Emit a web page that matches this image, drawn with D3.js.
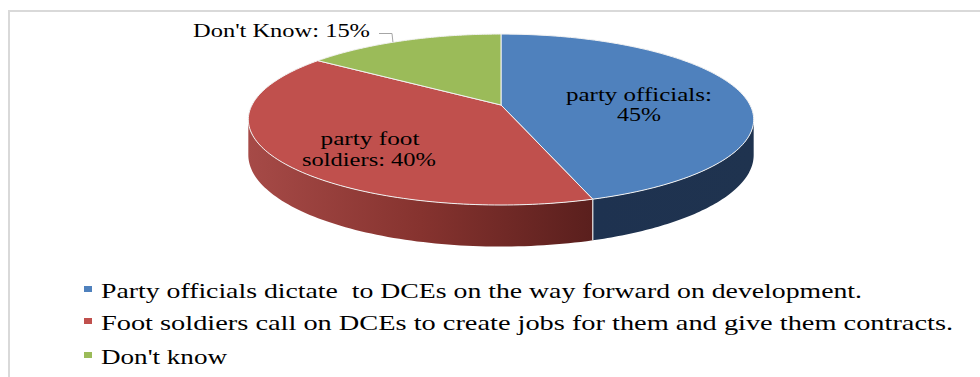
<!DOCTYPE html>
<html>
<head>
<meta charset="utf-8">
<script src="https://cdn.jsdelivr.net/npm/d3@7/dist/d3.min.js"></script>
<style>
  html, body { margin: 0; padding: 0; background: #ffffff; }
  svg text { font-family: "Liberation Serif", "Times New Roman", serif; fill: #000; white-space: pre; }
</style>
</head>
<body>
<svg id="chart" width="980" height="377"></svg>
<script>
// ---- data ----
const categories = ["party officials", "party foot soldiers", "Don't Know"];
const values = [45, 40, 15];
const legendLabels = [
  "Party officials dictate  to DCEs on the way forward on development.",
  "Foot soldiers call on DCEs to create jobs for them and give them contracts.",
  "Don't know"
];
const topColors = ["#4f81bd", "#c0504d", "#9bbb59"];

// ---- layout ----
const svg = d3.select("#chart");
const W = 980, H = 377;
const P = { cx: 501, cy: 105, A: 249, B: 83, p: 0.17, depth: 34.5 };

function proj(a, f, down) {
  const u = f * Math.sin(a), v = f * Math.cos(a);
  const w = 1 + P.p * v;
  return [P.cx + P.A * u / w, P.cy - P.B * v / w + (down ? P.depth / w : 0)];
}
function samples(a0, a1, n) {
  return d3.range(n + 1).map(i => a0 + (a1 - a0) * i / n);
}
const line = d3.line();

// border
svg.append("rect").attr("x", 0).attr("y", 0).attr("width", W).attr("height", H).attr("fill", "#fff");
svg.append("path").attr("d", `M9,${H} L9,11 L${W},11`).attr("fill", "none")
  .attr("stroke", "#d9d9d9").attr("stroke-width", 2);

const pie = d3.pie().sort(null).startAngle(0).endAngle(2 * Math.PI);
const arcs = pie(values);

// gradient for red side
const defs = svg.append("defs");
const g1 = defs.append("linearGradient").attr("id", "redSide").attr("x1", "0").attr("x2", "1").attr("y1", "0").attr("y2", "0");
g1.append("stop").attr("offset", "0").attr("stop-color", "#a64a47");
g1.append("stop").attr("offset", "0.5").attr("stop-color", "#86332f");
g1.append("stop").attr("offset", "1").attr("stop-color", "#5a1f1d");
const g0 = defs.append("linearGradient").attr("id", "blueSide").attr("x1", "0").attr("x2", "1").attr("y1", "0").attr("y2", "0");
g0.append("stop").attr("offset", "0").attr("stop-color", "#1e3250");
g0.append("stop").attr("offset", "1").attr("stop-color", "#1f334f");
const sideFill = ["url(#blueSide)", "url(#redSide)", "#5e7a2f"];

// side walls (front visible part)
const aMin = Math.acos(-P.p), aMax = 2 * Math.PI - Math.acos(-P.p);
arcs.forEach((d, i) => {
  const s = Math.max(d.startAngle, aMin), e = Math.min(d.endAngle, aMax);
  if (e <= s) return;
  const top = samples(s, e, 80).map(a => proj(a, 1, false));
  const bot = samples(e, s, 80).map(a => proj(a, 1, true));
  svg.append("path").attr("d", line(top.concat(bot)) + "Z")
    .attr("fill", sideFill[i]).attr("stroke", "none");
});
// side separator lines
arcs.forEach(d => {
  [d.startAngle].forEach(a => {
    if (a > aMin && a < aMax) {
      const t = proj(a, 1, false), b = proj(a, 1, true);
      svg.append("line").attr("x1", t[0]).attr("y1", t[1]).attr("x2", b[0]).attr("y2", b[1])
        .attr("stroke", "#e8e8e8").attr("stroke-width", 1.2);
    }
  });
});

// top faces
arcs.forEach((d, i) => {
  const pts = [[P.cx, P.cy]].concat(samples(d.startAngle, d.endAngle, 120).map(a => proj(a, 1, false)));
  svg.append("path").attr("d", line(pts) + "Z")
    .attr("fill", topColors[i]).attr("stroke", "#f2f2f2").attr("stroke-width", 1).attr("stroke-linejoin", "round");
});

// ---- data labels ----
function fitText(x, y, txt, len, size, anchor) {
  return svg.append("text").attr("x", x).attr("y", y).attr("text-anchor", anchor || "middle")
    .attr("font-size", size).attr("textLength", len).attr("lengthAdjust", "spacingAndGlyphs").text(txt);
}
fitText(639, 101, categories[0] + ":", 146, 18.5);
fitText(639, 121, values[0] + "%", 44, 18.5);
fitText(370, 145, "party foot", 99, 18.5);
fitText(369, 166, "soldiers: " + values[1] + "%", 134, 18.5);
fitText(193, 37, categories[2] + ": " + values[2] + "%", 177, 18.5, "start");

// leader line for Don't Know
const lEnd = proj((arcs[2].startAngle + arcs[2].endAngle) / 2 - 0.05, 1, false);
svg.append("path").attr("d", line([[379, 33.5], [392, 33.5], lEnd]))
  .attr("fill", "none").attr("stroke", "#a6a6a6").attr("stroke-width", 1);

// ---- legend ----
const legY = [298, 330, 364];
const legLen = [761, 852, 126];
legendLabels.forEach((t, i) => {
  svg.append("rect").attr("x", 84).attr("y", legY[i] - 12).attr("width", 8).attr("height", 6)
    .attr("fill", topColors[i]);
  fitText(101, legY[i], t, legLen[i], 21, "start");
});
</script>
</body>
</html>
